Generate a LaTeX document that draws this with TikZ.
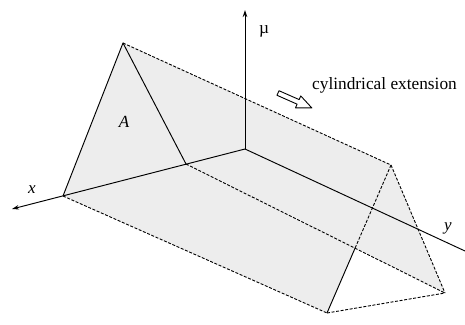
\documentclass[tikz,border=0pt]{standalone}
\usepackage{fontspec}
\setmainfont{Liberation Serif}
\usetikzlibrary{arrows.meta,calc}
\definecolor{facefill}{HTML}{EDEDED}
\begin{document}
\begin{tikzpicture}[x=1pt,y=-1pt, line join=round,
  edge/.style={line width=0.95pt},
  hid/.style={line width=0.9pt, dash pattern=on 3pt off 1.6pt},
  axis/.style={line width=0.95pt,-{Stealth[length=7pt,width=4.5pt]}},
  lbl/.style={font=\fontsize{17}{20}\selectfont\itshape, inner sep=0pt},
  txt/.style={font=\fontsize{17.3}{20}\selectfont, inner sep=0pt}]
\useasboundingbox (0,0) rectangle (465,324);
\coordinate (O) at (245,149);
\coordinate (A) at (123,43);
\coordinate (B) at (63,196);
\coordinate (C) at (186,164);
\coordinate (A2) at (391,165);
\coordinate (B2) at (327,313);
\coordinate (C2) at (445,293);
\coordinate (X) at (12,209);
\coordinate (Y) at (465,251);
\coordinate (M) at (245,10);
% faces
\fill[facefill] (B) -- (A) -- (A2) -- (B2) -- cycle;
\fill[facefill] (C) -- (A) -- (A2) -- (C2) -- cycle;
\coordinate (K) at (intersection of A2--B2 and C--C2);
% hidden / dashed edges
\draw[hid] (A) -- (A2);
\draw[hid] (C) -- (C2);
\draw[hid] (B) -- (B2);
\draw[hid] (B2) -- (C2);
\draw[hid] (A2) -- (C2);
\draw[hid] (A2) -- (K);
\draw[edge] (K) -- (B2);
% front triangle
\draw[edge] (B) -- (A) -- (C);
% axes
\draw[axis] (O) -- (X);
\draw[axis] (O) -- (M);
\draw[edge] (O) -- (Y);
% labels
\node[lbl] (lx) at (32,190) {x};
\node[lbl] (ly) at (448,228) {y};
\node[lbl] (lA) at (124,122) {A};
\node[txt] (lm) at (264,31) {µ};
\node[txt, anchor=west] (ce) at (312,85) {cylindrical extension};
% hollow arrow
\begin{scope}[shift={(278,93)}, rotate=-23.8]
\draw[line width=0.9pt, fill=white] (0,-2.5) -- (22,-2.5) -- (22,-6.5) -- (37,0) -- (22,6.5) -- (22,2.5) -- (0,2.5) -- cycle;
\end{scope}
\end{tikzpicture}
\end{document}
